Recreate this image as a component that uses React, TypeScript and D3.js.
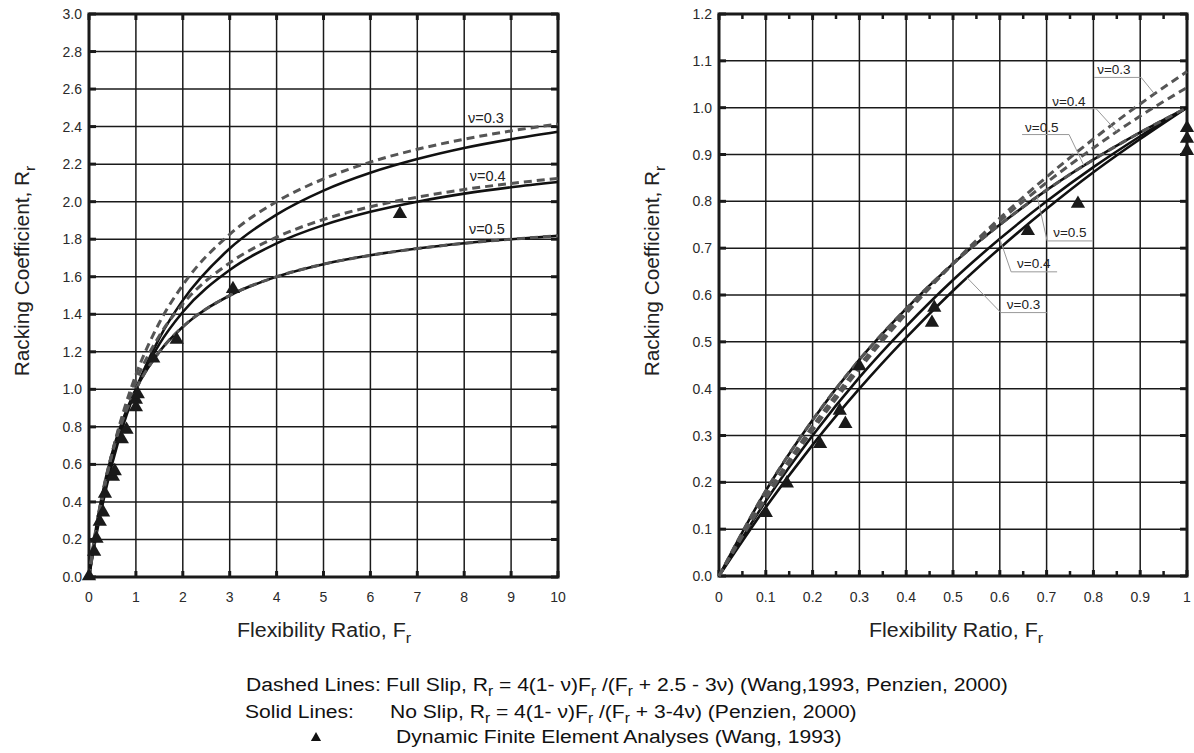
import React from "react";
import * as d3 from "d3";

// ---------- data ----------
const leftF = [0, 0.1, 0.25, 0.5, 0.75, 1, 1.5, 2, 3, 4, 5, 6, 7, 8, 9, 10];
const leftNoSlip03 = [0, 0.147, 0.341, 0.609, 0.824, 1.0, 1.273, 1.474, 1.75, 1.931, 2.059, 2.154, 2.227, 2.286, 2.333, 2.373];
const leftNoSlip04 = [0, 0.16, 0.364, 0.632, 0.837, 1.0, 1.241, 1.412, 1.636, 1.778, 1.875, 1.946, 2.0, 2.043, 2.077, 2.105];
const leftNoSlip05 = [0, 0.182, 0.4, 0.667, 0.857, 1.0, 1.2, 1.333, 1.5, 1.6, 1.667, 1.714, 1.75, 1.778, 1.8, 1.818];
const leftFullSlip03 = [0, 0.165, 0.378, 0.667, 0.894, 1.077, 1.355, 1.556, 1.826, 2.0, 2.121, 2.211, 2.279, 2.333, 2.377, 2.414];
const leftFullSlip04 = [0, 0.171, 0.387, 0.667, 0.878, 1.043, 1.286, 1.455, 1.674, 1.811, 1.905, 1.973, 2.024, 2.065, 2.097, 2.124];
const leftFullSlip05 = [0, 0.182, 0.4, 0.667, 0.857, 1.0, 1.2, 1.333, 1.5, 1.6, 1.667, 1.714, 1.75, 1.778, 1.8, 1.818];

const rightF = [0, 0.1, 0.2, 0.3, 0.4, 0.5, 0.6, 0.7, 0.8, 0.9, 1.0];
const rightNoSlip03 = [0, 0.147, 0.28, 0.4, 0.509, 0.609, 0.7, 0.784, 0.862, 0.933, 1.0];
const rightNoSlip04 = [0, 0.16, 0.3, 0.424, 0.533, 0.632, 0.72, 0.8, 0.873, 0.939, 1.0];
const rightNoSlip05 = [0, 0.182, 0.333, 0.462, 0.571, 0.667, 0.75, 0.824, 0.889, 0.947, 1.0];
const rightFullSlip03 = [0, 0.165, 0.311, 0.442, 0.56, 0.667, 0.764, 0.852, 0.933, 1.008, 1.077];
const rightFullSlip04 = [0, 0.171, 0.32, 0.45, 0.565, 0.667, 0.758, 0.84, 0.914, 0.982, 1.043];
const rightFullSlip05 = [0, 0.182, 0.333, 0.462, 0.571, 0.667, 0.75, 0.824, 0.889, 0.947, 1.0];

const leftFemF = [0.0, 0.11, 0.16, 0.23, 0.3, 0.34, 0.51, 0.55, 0.7, 0.8, 1.0, 1.0, 1.04, 1.37, 1.87, 3.07, 6.63];
const leftFemR = [0.01, 0.14, 0.21, 0.3, 0.35, 0.45, 0.54, 0.57, 0.74, 0.79, 0.91, 0.95, 0.98, 1.17, 1.27, 1.54, 1.94];
const rightFemF = [0.1, 0.145, 0.216, 0.258, 0.27, 0.3, 0.46, 0.455, 0.66, 0.767, 1.0, 1.0, 1.0];
const rightFemR = [0.137, 0.2, 0.284, 0.355, 0.327, 0.45, 0.575, 0.543, 0.739, 0.797, 0.959, 0.936, 0.91];

const leftXTicks = [0, 1, 2, 3, 4, 5, 6, 7, 8, 9, 10];
const leftYTicks = [0, 0.2, 0.4, 0.6, 0.8, 1.0, 1.2, 1.4, 1.6, 1.8, 2.0, 2.2, 2.4, 2.6, 2.8, 3.0];
const rightXTicks = [0, 0.1, 0.2, 0.3, 0.4, 0.5, 0.6, 0.7, 0.8, 0.9, 1];
const rightXMinor = [0.05, 0.15, 0.25, 0.35, 0.45, 0.55, 0.65, 0.75, 0.85, 0.95];
const rightYTicks = [0, 0.1, 0.2, 0.3, 0.4, 0.5, 0.6, 0.7, 0.8, 0.9, 1.0, 1.1, 1.2];

const nuLabels = ["ν=0.3", "ν=0.4", "ν=0.5"];

// ---------- layout ----------
const W = 1194;
const H = 753;
const FONT = "'Liberation Sans', Arial, Helvetica, sans-serif";
const INK = "#1a1a1a";

const lx = d3.scaleLinear().domain([0, 10]).range([89, 558]);
const ly = d3.scaleLinear().domain([0, 3]).range([577, 14]);
const rx = d3.scaleLinear().domain([0, 1]).range([719, 1187]);
const ry = d3.scaleLinear().domain([0, 1.2]).range([576, 14]);

function makeLine(xs: number[], ys: number[], sx: any, sy: any) {
  const pts: [number, number][] = xs.map((x, i) => [x, ys[i]]);
  return d3
    .line<[number, number]>()
    .x((d) => sx(d[0]))
    .y((d) => sy(d[1]))
    .curve(d3.curveMonotoneX)(pts) as string;
}

const tri = d3.symbol().type(d3.symbolTriangle).size(88)() as string;
const triSmall = d3.symbol().type(d3.symbolTriangle).size(45)() as string;

function Panel(props: {
  sx: any;
  sy: any;
  xTicks: number[];
  yTicks: number[];
  xMinor?: number[];
  xFmt: (v: number) => string;
  yFmt: (v: number) => string;
}) {
  const { sx, sy, xTicks, yTicks, xMinor, xFmt, yFmt } = props;
  const [x0, x1] = sx.range();
  const [y0, y1] = sy.range();
  return (
    <g>
      {xTicks.map((t, i) => (
        <line key={"gx" + i} x1={sx(t)} x2={sx(t)} y1={y0} y2={y1} stroke={INK} strokeWidth={1.5} />
      ))}
      {yTicks.map((t, i) => (
        <line key={"gy" + i} x1={x0} x2={x1} y1={sy(t)} y2={sy(t)} stroke={INK} strokeWidth={1.5} />
      ))}
      {xTicks.map((t, i) => (
        <g key={"tx" + i}>
          <line x1={sx(t)} x2={sx(t)} y1={y0} y2={y0 - 6} stroke={INK} strokeWidth={3} />
          <line x1={sx(t)} x2={sx(t)} y1={y1} y2={y1 + 6} stroke={INK} strokeWidth={3} />
        </g>
      ))}
      {(xMinor || []).map((t, i) => (
        <g key={"tm" + i}>
          <line x1={sx(t)} x2={sx(t)} y1={y0} y2={y0 - 5} stroke={INK} strokeWidth={2.5} />
          <line x1={sx(t)} x2={sx(t)} y1={y1} y2={y1 + 5} stroke={INK} strokeWidth={2.5} />
        </g>
      ))}
      {yTicks.map((t, i) => (
        <g key={"ty" + i}>
          <line x1={x0} x2={x0 + 7} y1={sy(t)} y2={sy(t)} stroke={INK} strokeWidth={3} />
          <line x1={x1} x2={x1 - 7} y1={sy(t)} y2={sy(t)} stroke={INK} strokeWidth={3} />
        </g>
      ))}
      <rect x={x0} y={y1} width={x1 - x0} height={y0 - y1} fill="none" stroke={INK} strokeWidth={3} />
      {xTicks.map((t, i) => (
        <text key={"lx" + i} x={sx(t)} y={602} textAnchor="middle" fontSize={14} fill="#2a2a2a" fontFamily={FONT}>
          {xFmt(t)}
        </text>
      ))}
      {yTicks.map((t, i) => (
        <text key={"ly" + i} x={x0 - 7} y={sy(t) + 5} textAnchor="end" fontSize={14} fill="#2a2a2a" fontFamily={FONT}>
          {yFmt(t)}
        </text>
      ))}
    </g>
  );
}

function Curves(props: { sx: any; sy: any; xs: number[]; solids: number[][]; dashes: number[][] }) {
  const { sx, sy, xs, solids, dashes } = props;
  return (
    <g>
      {solids.map((s, i) => (
        <path key={"s" + i} d={makeLine(xs, s, sx, sy)} fill="none" stroke="#111" strokeWidth={2.6} />
      ))}
      {dashes.map((s, i) => (
        <path
          key={"d" + i}
          d={makeLine(xs, s, sx, sy)}
          fill="none"
          stroke="#555"
          strokeWidth={3}
          strokeDasharray="8,5"
        />
      ))}
    </g>
  );
}

function Triangles(props: { sx: any; sy: any; xs: number[]; ys: number[] }) {
  const { sx, sy, xs, ys } = props;
  return (
    <g>
      {xs.map((x, i) => (
        <path key={i} d={tri} transform={`translate(${sx(x)},${sy(ys[i]) + 1})`} fill="#1a1a1a" />
      ))}
    </g>
  );
}

function AxisTitles(props: { cx: number; ytx: number }) {
  const { cx, ytx } = props;
  return (
    <g fontFamily={FONT} fill="#222">
      <text transform={`translate(${cx},637) scale(1.07,1)`} x={0} y={0} textAnchor="middle" fontSize={20}>
        Flexibility Ratio, F
        <tspan fontSize={15} dy={6}>r</tspan>
      </text>
      <text transform={`translate(${ytx},271) rotate(-90) scale(1.04,1)`} textAnchor="middle" fontSize={20}>
        Racking Coefficient, R
        <tspan fontSize={15} dy={6}>r</tspan>
      </text>
    </g>
  );
}

// annotation placements (data space)
const leftLabelPos = [
  [8.08, 2.42],
  [8.12, 2.11],
  [8.1, 1.83],
];
const rightTopLabels = [
  { x: 0.808, y: 1.071, cx: 0.93, cy: 1.03 },
  { x: 0.712, y: 1.004, cx: 0.85, cy: 0.949 },
  { x: 0.654, y: 0.949, cx: 0.78, cy: 0.876 },
];
const rightLowLabels = [
  { x: 0.615, y: 0.571, cx: 0.53, cy: 0.637 },
  { x: 0.637, y: 0.658, cx: 0.6, cy: 0.72 },
  { x: 0.714, y: 0.724, cx: 0.68, cy: 0.81 },
];

const LEG_SX = 1.11;

export default function App() {
  return (
    <div style={{ position: "absolute", left: 0, top: 0 }}>
      <svg width={W} height={H} viewBox={`0 0 ${W} ${H}`} style={{ display: "block", background: "#fff" }}>
        <rect x={0} y={0} width={W} height={H} fill="#fff" />
        {/* LEFT PANEL */}
        <Panel sx={lx} sy={ly} xTicks={leftXTicks} yTicks={leftYTicks} xFmt={(v) => String(v)} yFmt={(v) => v.toFixed(1)} />
        <Curves
          sx={lx}
          sy={ly}
          xs={leftF}
          solids={[leftNoSlip03, leftNoSlip04, leftNoSlip05]}
          dashes={[leftFullSlip03, leftFullSlip04, leftFullSlip05]}
        />
        <Triangles sx={lx} sy={ly} xs={leftFemF} ys={leftFemR} />
        {leftLabelPos.map((p, i) => (
          <text key={i} x={lx(p[0])} y={ly(p[1])} fontSize={14.5} fill="#222" fontFamily={FONT}>
            {nuLabels[i]}
          </text>
        ))}
        <AxisTitles cx={324} ytx={29} />

        {/* RIGHT PANEL */}
        <Panel
          sx={rx}
          sy={ry}
          xTicks={rightXTicks}
          yTicks={rightYTicks}
          xMinor={rightXMinor}
          xFmt={(v) => String(v)}
          yFmt={(v) => v.toFixed(1)}
        />
        <Curves
          sx={rx}
          sy={ry}
          xs={rightF}
          solids={[rightNoSlip03, rightNoSlip04, rightNoSlip05]}
          dashes={[rightFullSlip03, rightFullSlip04, rightFullSlip05]}
        />
        <Triangles sx={rx} sy={ry} xs={rightFemF} ys={rightFemR} />
        {rightTopLabels.map((p, i) => {
          const tx = rx(p.x);
          const ty = ry(p.y);
          return (
            <g key={"rt" + i}>
              <polyline
                points={`${tx - 3},${ty + 3} ${tx + 44},${ty + 3} ${rx(p.cx)},${ry(p.cy)}`}
                fill="none"
                stroke="#999"
                strokeWidth={1}
              />
              <text x={tx} y={ty} fontSize={13.5} fill="#222" fontFamily={FONT}>
                {nuLabels[i]}
              </text>
            </g>
          );
        })}
        {rightLowLabels.map((p, i) => {
          const tx = rx(p.x);
          const ty = ry(p.y);
          return (
            <g key={"rl" + i}>
              <polyline
                points={`${rx(p.cx)},${ry(p.cy)} ${tx - 6},${ty + 4} ${tx + 40},${ty + 4}`}
                fill="none"
                stroke="#999"
                strokeWidth={1}
              />
              <text x={tx} y={ty} fontSize={13.5} fill="#222" fontFamily={FONT}>
                {nuLabels[i]}
              </text>
            </g>
          );
        })}
        <AxisTitles cx={956} ytx={659} />

        {/* LEGEND */}
        <g fontFamily={FONT} fontSize={19} fill="#111">
          <text transform={`translate(246,691) scale(${LEG_SX},1)`}>Dashed Lines:</text>
          <text transform={`translate(386,691) scale(${LEG_SX},1)`}>
            Full Slip, R<tspan fontSize={14} dy={5}>r</tspan>
            <tspan dy={-5}> = 4(1- ν)F</tspan>
            <tspan fontSize={14} dy={5}>r</tspan>
            <tspan dy={-5}> /(F</tspan>
            <tspan fontSize={14} dy={5}>r</tspan>
            <tspan dy={-5}> + 2.5 - 3ν) (Wang,1993, Penzien, 2000)</tspan>
          </text>
          <text transform={`translate(245,718) scale(${LEG_SX},1)`}>Solid Lines:</text>
          <text transform={`translate(390,718) scale(${LEG_SX},1)`}>
            No Slip, R<tspan fontSize={14} dy={5}>r</tspan>
            <tspan dy={-5}> = 4(1- ν)F</tspan>
            <tspan fontSize={14} dy={5}>r</tspan>
            <tspan dy={-5}> /(F</tspan>
            <tspan fontSize={14} dy={5}>r</tspan>
            <tspan dy={-5}> + 3-4ν) (Penzien, 2000)</tspan>
          </text>
          <path d={triSmall} transform="translate(316,738)" fill="#111" />
          <text transform={`translate(396,743) scale(${LEG_SX},1)`}>Dynamic Finite Element Analyses (Wang, 1993)</text>
        </g>
      </svg>
    </div>
  );
}
